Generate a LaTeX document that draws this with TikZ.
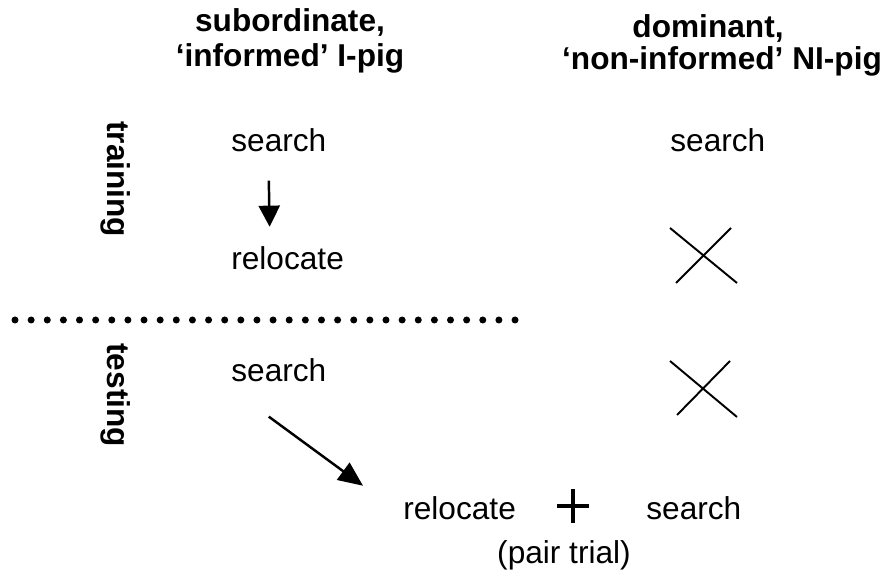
\documentclass[tikz,border=0pt]{standalone}
\usepackage{fontspec}
\setmainfont{Liberation Sans}
\usetikzlibrary{arrows.meta}

\begin{document}
\begin{tikzpicture}[x=0.02cm, y=-0.02cm,
	lbl/.style={inner sep=0pt, font=\fontsize{18}{22}\selectfont},
	hdr/.style={inner sep=0pt, font=\fontsize{18}{22}\selectfont\bfseries},
	phase/.style={inner sep=0pt, rotate=-90, anchor=base west, font=\fontsize{18}{22}\selectfont\bfseries},
	arr/.style={line width=1.4pt, -{Triangle[length=12pt, width=12pt]}},
	nomark/.style={line width=1.1pt},
	plusmark/.style={line width=2.3pt}]
	\useasboundingbox (0,0) rectangle (882,580);
	
	% Headings
	\node[hdr, anchor=base] (subA) at (290,32) {subordinate,};
	\node[hdr, anchor=base] (subB) at (290,67) {‘informed’ I-pig};
	\node[hdr, anchor=base] (domA) at (708,38) {dominant,};
	\node[hdr, anchor=base] (domB) at (722,70) {‘non-informed’ NI-pig};
	
	% Phases
	\node[phase] (train) at (107,121) {training};
	\node[phase] (test) at (107,343) {testing};
	
	% Training
	\node[lbl, anchor=base west] (srchA) at (231,152) {search};
	\node[lbl, anchor=base west] (relA) at (231,270) {relocate};
	\node[lbl, anchor=base west] (srchR) at (670,152) {search};
	\draw[nomark] (670,228) -- (737,283) (731,228) -- (676,283);
	
	% Separator
	\foreach \i in {0,...,31}
		\fill (15+\i*16.13,320) circle[radius=0.07cm];
	
	% Testing
	\node[lbl, anchor=base west] (srchB) at (231,382) {search};
	\node[lbl, anchor=base west] (relB) at (403,520) {relocate};
	\node[lbl, anchor=base west] (srchS) at (646,520) {search};
	\node[lbl, anchor=base] (pair) at (564,563) {(pair trial)};
	\draw[nomark] (670,361) -- (737,417) (730,361) -- (677,415);
	\draw[plusmark] (557,506) -- (589,506) (573,489) -- (573,523);
	
	% Arrows
	\draw[arr] ([shift={(-10,28)}]srchA.south) -- ([shift={(-18,-20)}]relA.north);
	\draw[arr, -{Triangle[length=14pt, width=12pt]}] ([shift={(-10,34)}]srchB.south) -- ([shift={(-40,-11)}]relB.north west);
\end{tikzpicture}
\end{document}
